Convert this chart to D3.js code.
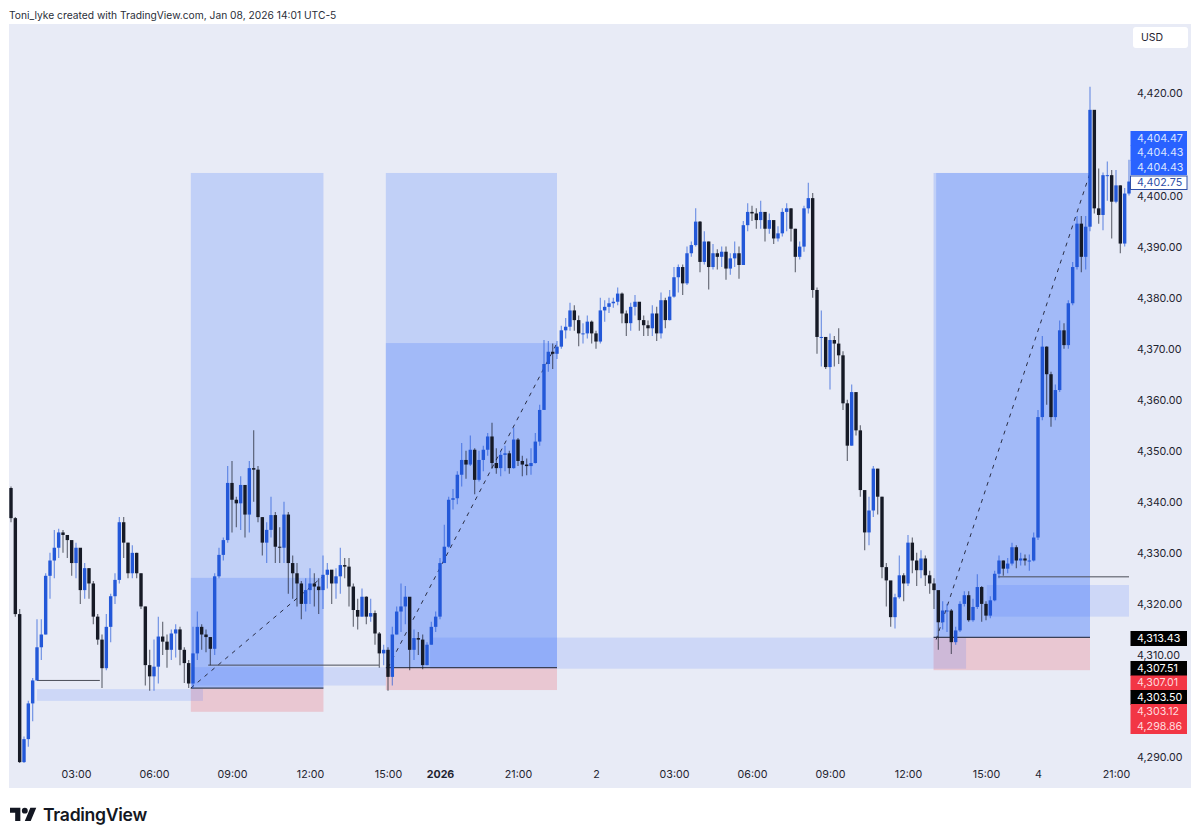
<!DOCTYPE html>
<html>
<head>
<meta charset="utf-8">
<style>
  html, body { margin: 0; padding: 0; background: #fff; }
  svg { display: block; }
  text { font-family: Inter, "Liberation Sans", sans-serif; }
</style>
</head>
<body>
<svg id="chart" width="1200" height="840"></svg>
<script src="https://cdn.jsdelivr.net/npm/d3@7/dist/d3.min.js"></script>
<script>
// 10 minute bars
var firstOpen = 4342.7;
var closes = [
  4336.8,4318,4289,4293.5,4300.5,4305,4311.5,4314,4325.5,4328.5,
  4331,4334,4333.5,4332.5,4328,4331,4322.7,4327,4324,4317.5,
  4313,4307.4,4315.5,4321.5,4324.7,4336,4332,4326,4330,4326,
  4319.5,4308,4305.8,4307.7,4313.6,4312.6,4311,4314.2,4315,4311,
  4308.4,4304.4,4310.3,4315.5,4314,4313.5,4311.2,4325.4,4329.6,4332.5,
  4343.7,4340.4,4339.7,4343.3,4337.5,4346.6,4346.3,4337,4332,4334.5,
  4337.4,4331.2,4331,4337.5,4328,4326,4324,4320,4322.7,4324,
  4323.4,4322.7,4325.7,4326.7,4324,4325.4,4327.6,4327.3,4323.4,4318.8,
  4317.5,4321.4,4317.5,4318.2,4314.2,4310.3,4311,4305.7,4314,4318.5,
  4319.5,4321.4,4311,4313.3,4313,4308,4312,4315.5,4317.5,4328,
  4331.2,4340.4,4340.7,4345.3,4348.2,4347.3,4350.2,4344.3,4348.2,4350.2,
  4352.8,4347.6,4346.6,4349.2,4349.5,4346.6,4352.2,4348,4347.3,4347,
  4347.6,4351.8,4358,4367,4369.4,4369,4370.4,4373.6,4374.3,4377.5,
  4375.6,4373,4373,4375.3,4373,4371.4,4377.5,4378.2,4378.9,4379.2,
  4380.8,4376.9,4375,4378.2,4379.2,4375.6,4374.6,4374,4376.9,4373,
  4379.5,4375.6,4380.2,4384,4386,4382.8,4388.7,4390.3,4394.9,4387,
  4391,4386,4388.7,4388,4389,4385.7,4387.7,4388.7,4386.4,4394.2,
  4396.8,4396.5,4395.2,4396.8,4393.5,4395.2,4391.6,4392.6,4396.8,4397.5,
  4393.5,4388,4390,4397.5,4399.5,4381.5,4372.3,4372.3,4366.4,4371.7,
  4371,4368.7,4359.3,4351,4361.5,4354,4342.3,4334,4338.3,4346.5,
  4341,4327.2,4324.6,4317.4,4321.3,4325.6,4324,4332,4328.5,4326.6,
  4328.9,4325.6,4324,4322.7,4316.4,4318.7,4318.7,4312.5,4314.8,4320,
  4321.7,4316.8,4319.4,4323.3,4320,4317.7,4320.7,4325.9,4328.5,4326.9,
  4327.9,4331.1,4328.5,4328.9,4328.5,4328.5,4333,4356.6,4370.4,4365,
  4356.6,4361.9,4373.6,4370.7,4378.9,4386,4394.5,4388,4393.9,4416.8,
  4397.5,4396.2,4404,4404,4398.8,4402,4390.6,4400.4,4402.75
];
var highs = [
  4343,4337,4319,4294,4301,4305.5,4317,4317,4326,4330,
  4334.5,4334.7,4334.5,4333.5,4332,4332,4329,4328,4327,4324.5,
  4318,4314,4318,4322,4326,4337,4337,4332,4331.5,4330,
  4326,4319.5,4311,4313,4317.5,4316.5,4314,4315,4316,4315.5,
  4311.5,4309,4315.5,4318.5,4316,4315,4313.5,4326,4331,4333,
  4347,4348,4341,4345,4342,4348,4354,4347,4337,4336,
  4341,4338,4335,4340,4338,4329.5,4328,4324.5,4325,4327,
  4326,4325,4329.5,4328,4326.5,4327,4331,4329,4329,4324,
  4321,4323,4321.5,4321,4318.7,4314.5,4312,4311.5,4315.5,4319.5,
  4324,4323.5,4316,4315,4314.5,4314,4312.5,4316.5,4318.5,4329,
  4335.5,4341,4342.5,4346,4351.5,4350,4353,4350.5,4350,4351,
  4353.5,4355.5,4350.5,4350,4351,4350,4354.5,4352.5,4349,4348.5,
  4350.5,4353.5,4359,4371.7,4371.5,4371,4371.5,4374.5,4376,4379,
  4378.5,4376.5,4375,4376.5,4375.5,4373.5,4380,4379.5,4380,4380,
  4382,4381,4377.5,4379,4380.5,4379,4376.5,4375.5,4378.5,4378.2,
  4381,4380,4381.5,4386,4386.5,4386.5,4390,4391,4397.5,4395,
  4393,4391,4390.5,4389.5,4390,4390,4388.7,4391,4390,4395,
  4398.5,4398,4397.5,4399,4396.5,4396.5,4395,4394,4397.5,4398.5,
  4397.5,4393.5,4391,4398,4402.5,4400.5,4382,4377.5,4372,4373,
  4372.5,4374,4369.5,4360,4363,4361,4355,4340,4341,4347,
  4346.5,4341,4328,4324.5,4322,4329.5,4326,4333.5,4333,4330,
  4330.5,4329.5,4326.5,4325,4322.5,4320.5,4320,4319,4315.5,4320.5,
  4322.5,4322.5,4321,4325.8,4323.5,4320.5,4321.5,4326.5,4329.5,4328.5,
  4329,4332,4331.5,4330,4329.7,4329.7,4334,4358,4372.5,4370.5,
  4365.5,4363,4375.5,4375,4379.5,4387,4396,4396,4396,4421.3,
  4410.9,4405.3,4404.5,4406.7,4405,4405,4402,4401.5,4407
];
var lows = [
  4336,4317.5,4288.8,4288.8,4292,4297,4305,4309,4314,4321,
  4325,4329,4330,4329,4325.5,4325,4320,4321,4321,4316,
  4312,4303.5,4307,4312.5,4320,4324,4329,4325,4325,4325,
  4319,4304,4303,4303,4304.4,4310,4307.5,4309,4309.5,4308,
  4304.5,4303.5,4303.4,4309,4311,4310.5,4308,4310,4325,4328.5,
  4332,4334,4335,4334.5,4333,4334,4340,4336,4329.5,4328,
  4333,4328,4328,4328,4322,4321,4319.5,4317,4318.5,4320,
  4319.5,4318,4319,4323,4320,4321,4322,4325,4319.5,4315.5,
  4315,4317.5,4316,4316.5,4312,4307.5,4308,4303,4304,4314,
  4314.5,4316,4307,4309,4310,4307.2,4308,4312,4314.5,4317,
  4328,4331,4338.5,4339.5,4343,4344.5,4347,4341.5,4344,4346,
  4349,4346.5,4345.5,4345,4346,4345.5,4346.5,4347,4345,4345.2,
  4345.3,4347.5,4351,4364.5,4365.5,4366,4368,4370,4372,4373.5,
  4373.5,4370.5,4371,4372,4371,4370,4371,4375.3,4377,4378,
  4378.5,4375,4372.5,4373.5,4376.5,4373.5,4372.5,4372.5,4372.5,4371.5,
  4372,4374,4375.5,4380,4381,4380.5,4382.5,4388,4390,4385,
  4386.5,4381.6,4385.5,4385.5,4386,4383.5,4384.5,4386,4383.7,4386.5,
  4393,4395,4393.5,4393.5,4391,4392.5,4390.5,4391,4392,4393,
  4391,4385,4387.5,4389,4396.5,4380,4369,4366.5,4366,4362,
  4366.5,4367,4358,4348,4351,4353,4341,4330.5,4331.5,4337,
  4337.5,4325,4319.5,4315.5,4315.2,4321,4320.5,4323.5,4326,4323.5,
  4325,4323.5,4322,4319,4311,4315,4314.5,4310.2,4312,4314.5,
  4319.5,4316.5,4316.5,4319,4316.5,4316.8,4317.2,4320.5,4325,4325.5,
  4326,4327.5,4327,4327.5,4327.5,4326.5,4328.3,4332.5,4356,4359,
  4354.7,4356,4361.5,4370,4370,4378.5,4385.5,4385,4385.5,4393,
  4396.5,4394.5,4393.2,4399,4391.6,4398.5,4388.7,4390,4400
];

// axis ticks (4,300 and 4,410 are hidden behind the tags on the platform)
var priceTicks = [4290,4310,4320,4330,4340,4350,4360,4370,4380,4390,4400,4420];
var timeIndex = [15,33,51,69,87,99,117,135,153,171,189,207,225,237,255];
var timeLabels = ["03:00","06:00","09:00","12:00","15:00","2026","21:00","2","03:00","06:00","09:00","12:00","15:00","4","21:00"];

// position tools, in bar index and price: start, end, top price, bottom price
var targetBoxes = [
  [41.5,72.1,4404.43,4303.5],
  [41.5,72.1,4325.1,4303.5],
  [86.5,126,4404.43,4307.51],
  [86.5,126,4371.1,4307.51],
  [212.9,249,4404.43,4313.43],
  [213.5,249,4404.43,4313.43]
];
var stopBoxes = [
  [41.5,72.1,4303.4,4298.86],
  [86.5,126,4307.4,4303.12],
  [212.9,249,4313.3,4307.01]
];
var bands = [
  [6,44.3,4303.3,4301],
  [41.5,86.5,4307.6,4304],
  [96.7,220.4,4313.4,4307.3],
  [225.2,258,4323.7,4317.5]
];
// start, end, price
var levelLines = [
  [41.5,72.1,4303.5],
  [86.5,126,4307.51],
  [212.9,249,4313.43]
];
var thinLines = [
  [6,20.5,4305],
  [45.5,84.9,4308],
  [227.8,258,4325.3]
];
// start, start price, end, end price
var dashLines = [
  [41.5,4303.5,72,4325.4],
  [87,4307.5,126,4371.1],
  [213.5,4313,249,4404.43]
];

// price tags on the axis
var tagTexts = ["4,404.47","4,404.43","4,404.43","4,402.75","4,313.43","4,307.51","4,307.01","4,303.50","4,303.12","4,298.86"];
var tagKinds = ["blue","blue","blue","open","black","black","red","black","red","red"];

var blue = "#2358d8", dark = "#161a26", textCol = "#1f2430";
var tagTop = [131,145.5,160,176,631,661,675.5,690,704,719];
var tagFill = {blue:"#2962ff", open:"#ffffff", black:"#000000", red:"#f23645"};
var tagInk = {blue:"#dbe5ff", open:"#2f4fa8", black:"#ffffff", red:"#ffd9dc"};
var axisFont = 'Inter, "Liberation Sans", sans-serif';

var svg = d3.select("#chart");
var x = d3.scaleLinear().domain([0,258]).range([11,1129]);
var y = d3.scaleLinear().domain([4290,4420]).range([757,93.5]);

svg.append("rect").attr("x",9).attr("y",24).attr("width",1182).attr("height",764).attr("fill","#e8ebf6");

function drawBoxes(rows, fill) {
  svg.append("g").selectAll("rect").data(rows).enter().append("rect")
    .attr("x", function(d){ return x(d[0]); })
    .attr("width", function(d){ return x(d[1]) - x(d[0]); })
    .attr("y", function(d){ return y(d[2]); })
    .attr("height", function(d){ return y(d[3]) - y(d[2]); })
    .attr("fill", fill);
}
drawBoxes(targetBoxes, "rgba(41,98,255,0.2)");
drawBoxes(stopBoxes, "rgba(242,54,69,0.2)");
drawBoxes(bands, "rgba(41,98,255,0.14)");

function drawLevels(rows, stroke, w) {
  svg.append("g").selectAll("line").data(rows).enter().append("line")
    .attr("x1", function(d){ return x(d[0]); })
    .attr("x2", function(d){ return x(d[1]); })
    .attr("y1", function(d){ return y(d[2]); })
    .attr("y2", function(d){ return y(d[2]); })
    .attr("stroke", stroke).attr("stroke-width", w);
}
drawLevels(levelLines, "#3a3f55", 1.4);
drawLevels(thinLines, "#4a4d57", 1);

svg.append("g").selectAll("line").data(dashLines).enter().append("line")
  .attr("x1", function(d){ return x(d[0]); })
  .attr("y1", function(d){ return y(d[1]); })
  .attr("x2", function(d){ return x(d[2]); })
  .attr("y2", function(d){ return y(d[3]); })
  .attr("stroke","#2a2e45").attr("stroke-width",1).attr("stroke-dasharray","4 5");

// candles
var bars = closes.map(function(c, i){
  return { i:i, open: i ? closes[i-1] : firstOpen, close:c, high:highs[i], low:lows[i] };
});
function barCol(d){ return d.close >= d.open ? blue : dark; }

var candle = svg.append("g").selectAll("g").data(bars).enter().append("g");
candle.append("line")
  .attr("x1", function(d){ return x(d.i); })
  .attr("x2", function(d){ return x(d.i); })
  .attr("y1", function(d){ return y(d.high); })
  .attr("y2", function(d){ return y(d.low); })
  .attr("stroke", barCol).attr("stroke-width",1.2).attr("stroke-opacity",0.6);
candle.append("rect")
  .attr("x", function(d){ return x(d.i) - 1.7; })
  .attr("width", 3.4)
  .attr("y", function(d){ return y(Math.max(d.open,d.close)); })
  .attr("height", function(d){ return Math.max(1, Math.abs(y(d.open)-y(d.close))); })
  .attr("fill", barCol);

// axes
var yAxis = d3.axisRight(y).tickValues(priceTicks).tickSize(0).tickPadding(0).tickFormat(d3.format(",.2f"));
var gy = svg.append("g").attr("transform","translate(1137,0)").call(yAxis);
gy.select(".domain").remove();
gy.selectAll("text").attr("fill",textCol).style("font-size","10.7px").style("font-family",axisFont);

var xAxis = d3.axisBottom(x).tickValues(timeIndex).tickSize(0).tickPadding(0)
  .tickFormat(function(d, i){ return timeLabels[i]; });
var gx = svg.append("g").attr("transform","translate(0,770)").call(xAxis);
gx.select(".domain").remove();
gx.selectAll("text").attr("fill",textCol).style("font-size","10.7px").style("font-family",axisFont)
  .style("font-weight", function(d, i){ return timeLabels[i] === "2026" ? 700 : 400; });

// tags sit over the axis labels, nudged apart like on the platform
var tag = svg.append("g").selectAll("g").data(tagTexts).enter().append("g");
tag.append("rect")
  .attr("x", 1130.5).attr("width", 56.5)
  .attr("y", function(d,i){ return tagTop[i]; })
  .attr("height", function(d,i){ return tagKinds[i] === "open" ? 13.5 : 15; })
  .attr("fill", function(d,i){ return tagFill[tagKinds[i]]; })
  .attr("stroke", function(d,i){ return tagKinds[i] === "open" ? "#2f4fa8" : "none"; });
tag.append("text")
  .attr("x", 1137)
  .attr("y", function(d,i){ return tagTop[i] + (tagKinds[i] === "open" ? 6.3 : 6.8); })
  .attr("dy","0.35em")
  .attr("fill", function(d,i){ return tagInk[tagKinds[i]]; })
  .style("font-size","10.7px")
  .text(function(d){ return d; });

// header, currency button, logo
svg.append("text").attr("x",9).attr("y",15).attr("dy","0.35em")
  .attr("fill","#2a2e39").style("font-size","10.25px")
  .text("Toni_lyke created with TradingView.com, Jan 08, 2026 14:01 UTC-5");

svg.append("rect").attr("x",1133).attr("y",27).attr("width",55).attr("height",21).attr("rx",3).attr("fill","#fff");
svg.append("text").attr("x",1141).attr("y",37.5).attr("dy","0.35em").attr("fill",textCol).style("font-size","10.5px").text("USD");

var logo = svg.append("g").attr("transform","translate(10,802.5) scale(0.74)");
logo.append("path").attr("d","M14 25H7V14H0V7h14v18zM28 25h-8l7.5-18h8L28 25z").attr("fill","#131722");
logo.append("circle").attr("cx",20).attr("cy",11).attr("r",4).attr("fill","#131722");
svg.append("text").attr("x",43).attr("y",815).attr("dy","0.35em").attr("fill","#131722")
  .style("font-size","17.6px").style("font-weight",600).style("letter-spacing","-0.3px").text("TradingView");
</script>
</body>
</html>
